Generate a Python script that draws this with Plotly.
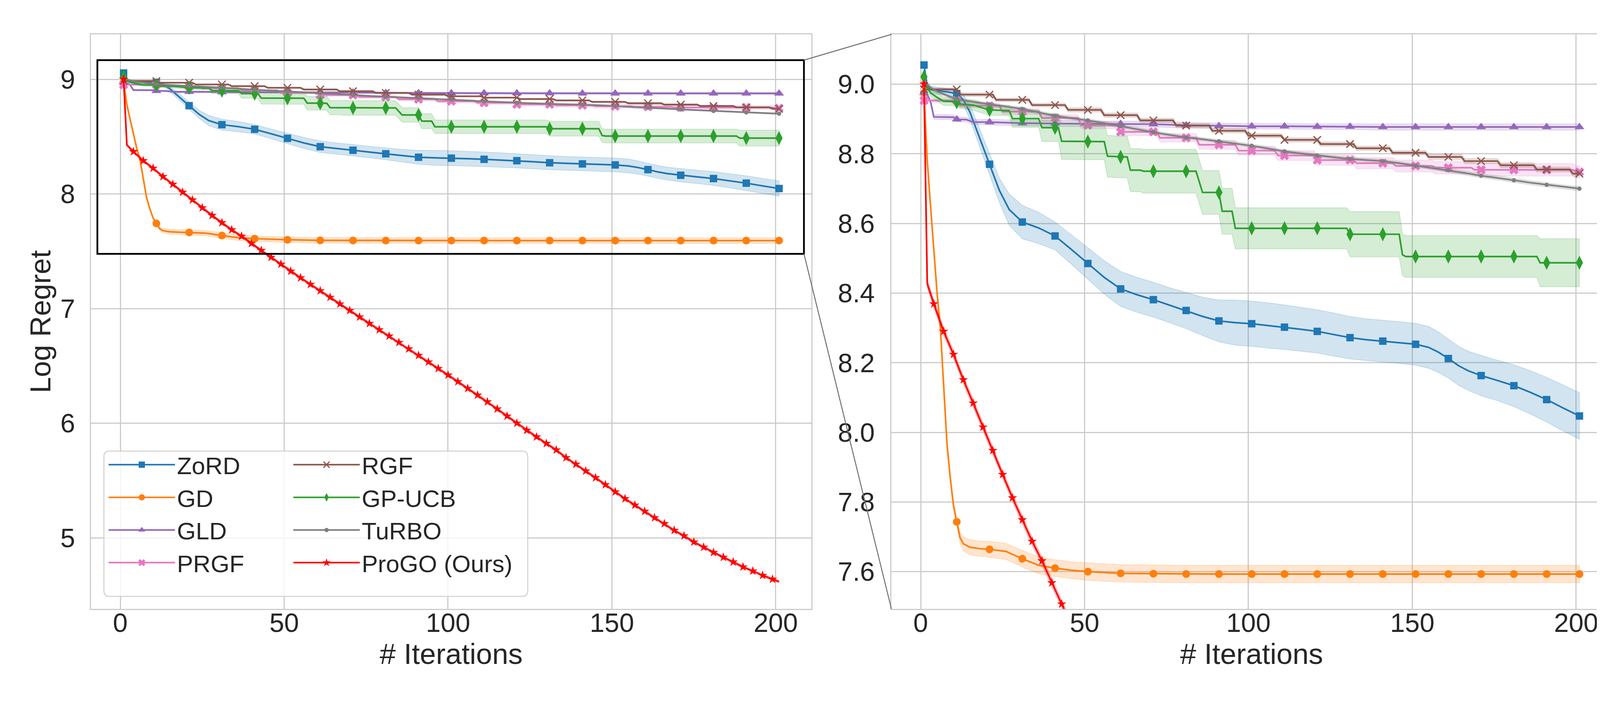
import plotly.graph_objects as go

# ---- data (mean log regret and +/- band half-width) ----
ZORD_X = [1, 2, 3, 5, 8, 11, 13, 15, 17, 19, 21, 24, 27, 31, 36, 41, 46, 51, 56, 61, 66, 71, 76, 81, 86,
          91, 96, 101, 106, 111, 116, 121, 126, 131, 136, 141, 146, 151, 155, 158, 161, 164, 167, 171, 176,
          181, 186, 191, 196, 201]
ZORD_Y = [9.055, 8.995, 8.985, 8.981, 8.978, 8.973, 8.955, 8.920, 8.870, 8.820, 8.770, 8.695, 8.640, 8.604,
          8.587, 8.564, 8.525, 8.485, 8.445, 8.412, 8.395, 8.381, 8.365, 8.350, 8.333, 8.320, 8.315, 8.312,
          8.307, 8.302, 8.296, 8.290, 8.281, 8.272, 8.266, 8.262, 8.258, 8.253, 8.244, 8.230, 8.212, 8.192,
          8.177, 8.163, 8.149, 8.134, 8.115, 8.094, 8.070, 8.047]
ZORD_S = [0.005, 0.010, 0.010, 0.010, 0.010, 0.012, 0.015, 0.020, 0.025, 0.028, 0.030, 0.035, 0.045, 0.048,
          0.045, 0.040, 0.042, 0.045, 0.048, 0.050, 0.050, 0.050, 0.050, 0.052, 0.055, 0.060, 0.065, 0.065,
          0.065, 0.064, 0.063, 0.062, 0.062, 0.061, 0.060, 0.060, 0.060, 0.060, 0.060, 0.058, 0.056, 0.056,
          0.056, 0.058, 0.058, 0.060, 0.062, 0.064, 0.066, 0.067]

GD_X = [1, 2, 3, 4, 5, 6, 7, 8, 9, 10, 11, 12, 13, 15, 18, 21, 26, 31, 36, 41, 46, 51, 61, 71, 81, 91,
        101, 111, 121, 131, 141, 151, 161, 171, 181, 191, 201]
GD_Y = [8.975, 8.780, 8.650, 8.520, 8.400, 8.300, 8.130, 7.970, 7.870, 7.790, 7.743, 7.698, 7.680, 7.670,
        7.666, 7.664, 7.658, 7.637, 7.618, 7.610, 7.604, 7.600, 7.595, 7.594, 7.593, 7.593, 7.593, 7.593,
        7.593, 7.593, 7.593, 7.593, 7.593, 7.593, 7.593, 7.593, 7.593]
GD_S = [0.003, 0.004, 0.005, 0.006, 0.007, 0.008, 0.009, 0.010, 0.010, 0.010, 0.010, 0.015, 0.020, 0.022,
        0.022, 0.023, 0.023, 0.024, 0.024, 0.024, 0.024, 0.025, 0.025, 0.025, 0.025, 0.025, 0.025, 0.025,
        0.025, 0.025, 0.025, 0.025, 0.025, 0.025, 0.025, 0.025, 0.025]

GLD_X = [1, 2, 3, 4, 10, 11, 14, 16, 21, 31, 41, 51, 61, 71, 81, 91, 101, 111, 121, 131, 141, 151, 161,
         171, 181, 191, 201]
GLD_Y = [8.975, 8.970, 8.950, 8.906, 8.905, 8.899, 8.898, 8.891, 8.891, 8.888, 8.887, 8.886, 8.886, 8.885,
         8.882, 8.880, 8.879, 8.879, 8.878, 8.878, 8.877, 8.877, 8.877, 8.877, 8.877, 8.877, 8.877]
GLD_S = [0.003, 0.004, 0.005, 0.007, 0.007, 0.007, 0.007, 0.007, 0.008, 0.008, 0.008, 0.008, 0.008, 0.008,
         0.008, 0.008, 0.008, 0.008, 0.008, 0.008, 0.009, 0.009, 0.009, 0.009, 0.009, 0.009, 0.009]

# step curves: iteration where each level starts, and the level
PRGF_START = [1, 12, 25, 37, 49, 61, 73, 85, 97, 109, 121, 133, 145, 157, 169, 200]
PRGF_LEVEL = [8.953, 8.938, 8.921, 8.903, 8.882, 8.863, 8.846, 8.826, 8.809, 8.795, 8.782, 8.773, 8.765,
              8.760, 8.754, 8.748]
PRGF_STD = [0.005, 0.006, 0.008, 0.009, 0.010, 0.011, 0.012, 0.013, 0.013, 0.014, 0.015, 0.016, 0.017,
            0.018, 0.018, 0.018]

RGF_START = [1, 12, 23, 34, 45, 56, 67, 78, 89, 100, 111, 122, 133, 144, 155, 166, 177, 188, 199]
RGF_LEVEL = [8.985, 8.970, 8.955, 8.940, 8.926, 8.911, 8.896, 8.881, 8.866, 8.852, 8.840, 8.828, 8.816,
             8.803, 8.791, 8.779, 8.767, 8.755, 8.743]
RGF_STD = [0.004, 0.005, 0.005, 0.005, 0.006, 0.006, 0.006, 0.006, 0.006, 0.006, 0.006, 0.006, 0.006,
           0.006, 0.007, 0.007, 0.007, 0.007, 0.007]

GPUCB_X = [1, 2, 3, 5, 7, 10, 11, 12, 16, 19, 21, 27, 28, 31, 36, 37, 41, 42, 43, 51, 56, 57, 61, 63, 64,
           67, 68, 71, 81, 84, 86, 91, 92, 95, 96, 101, 111, 121, 130, 131, 141, 146, 147, 148, 151, 161,
           171, 181, 188, 189, 191, 201]
GPUCB_Y = [9.021, 8.990, 8.975, 8.962, 8.951, 8.950, 8.948, 8.943, 8.940, 8.931, 8.926, 8.924, 8.901,
           8.901, 8.901, 8.875, 8.875, 8.875, 8.836, 8.835, 8.835, 8.793, 8.791, 8.791, 8.753, 8.753, 8.750,
           8.750, 8.750, 8.750, 8.689, 8.689, 8.635, 8.635, 8.586, 8.586, 8.586, 8.586, 8.586, 8.569, 8.569,
           8.569, 8.510, 8.505, 8.505, 8.505, 8.505, 8.505, 8.505, 8.487, 8.487, 8.487]
GPUCB_S = [0.005, 0.008, 0.010, 0.012, 0.012, 0.012, 0.012, 0.012, 0.015, 0.015, 0.015, 0.015, 0.025,
           0.025, 0.025, 0.040, 0.040, 0.040, 0.052, 0.052, 0.052, 0.060, 0.060, 0.060, 0.062, 0.062, 0.063,
           0.063, 0.063, 0.063, 0.063, 0.063, 0.066, 0.066, 0.059, 0.059, 0.059, 0.059, 0.059, 0.065, 0.065,
           0.065, 0.060, 0.060, 0.060, 0.060, 0.060, 0.060, 0.060, 0.069, 0.069, 0.069]

TURBO_X = [1, 3, 5, 7, 11, 16, 21, 26, 31, 36, 41, 46, 51, 56, 61, 66, 71, 76, 81, 86, 91, 96, 101, 106,
           111, 116, 121, 126, 131, 136, 141, 146, 151, 156, 161, 166, 171, 176, 181, 186, 191, 196, 201]
TURBO_Y = [9.007, 8.990, 8.979, 8.971, 8.956, 8.949, 8.942, 8.935, 8.929, 8.919, 8.909, 8.902, 8.896,
           8.888, 8.879, 8.871, 8.862, 8.854, 8.847, 8.842, 8.836, 8.830, 8.823, 8.815, 8.807, 8.801, 8.795,
           8.790, 8.785, 8.782, 8.779, 8.773, 8.766, 8.760, 8.753, 8.745, 8.737, 8.731, 8.724, 8.717, 8.711,
           8.705, 8.700]
TURBO_S = [0.003, 0.004, 0.004, 0.004, 0.005, 0.005, 0.005, 0.005, 0.005, 0.005, 0.005, 0.005, 0.005,
           0.005, 0.005, 0.005, 0.005, 0.005, 0.005, 0.005, 0.005, 0.005, 0.005, 0.005, 0.005, 0.005, 0.005,
           0.005, 0.005, 0.005, 0.005, 0.005, 0.005, 0.006, 0.006, 0.006, 0.006, 0.006, 0.006, 0.006, 0.006,
           0.006, 0.006]

PROGO_X = [1, 2, 4, 7, 10, 13, 16, 19, 22, 25, 28, 31, 34, 37, 40, 43, 46, 49, 52, 55, 58, 61, 64, 67, 70,
           73, 76, 79, 82, 85, 88, 91, 94, 97, 100, 103, 106, 109, 112, 115, 118, 121, 124, 127, 130, 133,
           136, 139, 142, 145, 148, 151, 154, 157, 160, 163, 166, 169, 172, 175, 178, 181, 184, 187, 190,
           193, 196, 199, 201]
PROGO_Y = [9.000, 8.427, 8.369, 8.290, 8.224, 8.151, 8.084, 8.015, 7.948, 7.879, 7.812, 7.749, 7.687,
           7.631, 7.568, 7.507, 7.447, 7.387, 7.326, 7.268, 7.211, 7.155, 7.098, 7.040, 6.983, 6.926, 6.870,
           6.815, 6.760, 6.704, 6.648, 6.591, 6.534, 6.477, 6.420, 6.362, 6.303, 6.245, 6.186, 6.124, 6.062,
           6.000, 5.938, 5.880, 5.823, 5.766, 5.699, 5.642, 5.583, 5.524, 5.463, 5.401, 5.341, 5.285, 5.231,
           5.175, 5.123, 5.065, 5.017, 4.963, 4.918, 4.872, 4.830, 4.789, 4.746, 4.710, 4.672, 4.639, 4.618]
PROGO_STD = 0.012

X_TICKS = [0, 50, 100, 150, 200]
Y_TICKS_MAIN = [5, 6, 7, 8, 9]
Y_TICKS_ZOOM = [7.6, 7.8, 8.0, 8.2, 8.4, 8.6, 8.8, 9.0]
N_ITER = 201

FONT = "Liberation Sans, Arial, sans-serif"
TXT = "#262626"
GRID = "#cccccc"


def expand_steps(starts, levels, stds):
    xs, ys, ss = [], [], []
    for i in range(1, N_ITER + 1):
        k = max(j for j, s in enumerate(starts) if s <= i)
        xs.append(i)
        ys.append(levels[k])
        ss.append(stds[k])
    return xs, ys, ss


def rgba(hex_color, a):
    h = hex_color.lstrip("#")
    r, g, b = int(h[0:2], 16), int(h[2:4], 16), int(h[4:6], 16)
    return "rgba(%d,%d,%d,%.2f)" % (r, g, b, a)


prgf_x, prgf_y, prgf_s = expand_steps(PRGF_START, PRGF_LEVEL, PRGF_STD)
rgf_x, rgf_y, rgf_s = expand_steps(RGF_START, RGF_LEVEL, RGF_STD)

# name, x, y, std, colour, symbol, size, mark every, legend
series = [
    ("ZoRD", ZORD_X, ZORD_Y, ZORD_S, "#1f77b4", "square", 19, 10, "legend"),
    ("GD", GD_X, GD_Y, GD_S, "#ff7f0e", "circle", 20, 10, "legend"),
    ("GLD", GLD_X, GLD_Y, GLD_S, "#9467bd", "triangle-up", 22, 10, "legend"),
    ("PRGF", prgf_x, prgf_y, prgf_s, "#e377c2", "x", 21, 10, "legend"),
    ("RGF", rgf_x, rgf_y, rgf_s, "#8c564b", "x-thin", 19, 10, "legend2"),
    ("GP-UCB", GPUCB_X, GPUCB_Y, GPUCB_S, "#2ca02c", "diamond-tall", 26, 10, "legend2"),
    ("TuRBO", TURBO_X, TURBO_Y, TURBO_S, "#7f7f7f", "circle", 11, 10, "legend2"),
    ("ProGO (Ours)", PROGO_X, PROGO_Y, [PROGO_STD] * len(PROGO_X), "#ff0000", "star", 18, 3, "legend2"),
]

fig = go.Figure()

for name, xs, ys, ss, col, sym, msize, every, leg in series:
    up = [a + b for a, b in zip(ys, ss)]
    lo = [a - b for a, b in zip(ys, ss)]
    mx = [x for x in xs if (x - 1) % every == 0]
    my = [y for x, y in zip(xs, ys) if (x - 1) % every == 0]
    mline = dict(color=col, width=3) if sym == "x-thin" else dict(width=0)
    for xa, ya in (("x", "y"), ("x2", "y2")):
        fig.add_trace(go.Scatter(x=xs + xs[::-1], y=up + lo[::-1], fill="toself", mode="lines",
                                 fillcolor=rgba(col, 0.2), line=dict(color=rgba(col, 0.25), width=1.5),
                                 hoverinfo="skip", showlegend=False, xaxis=xa, yaxis=ya))
        fig.add_trace(go.Scatter(x=xs, y=ys, mode="lines", line=dict(color=col, width=4.2),
                                 showlegend=False, xaxis=xa, yaxis=ya))
        fig.add_trace(go.Scatter(x=mx, y=my, mode="markers", showlegend=False, xaxis=xa, yaxis=ya,
                                 marker=dict(symbol=sym, size=msize, color=col, line=mline)))
    # legend proxy
    fig.add_trace(go.Scatter(x=[None], y=[None], mode="lines+markers", name=name, legend=leg,
                             line=dict(color=col, width=4),
                             marker=dict(symbol=sym, size=min(msize, 16), color=col, line=mline)))

# ---- layout ----
DOM_L = [225 / 4200, 2069 / 4200]
DOM_R = [2274 / 4200, 4118 / 4200]
DOM_Y = [1 - 1551 / 1800, 1 - 80 / 1800]
XR = [-8.94, 210.85]
YR_MAIN = [4.38, 9.392]
YR_ZOOM = [7.493, 9.143]
RECT_X = [-7.0, 208.6]
RECT_Y = [7.477, 9.167]

axis_common = dict(showgrid=True, gridcolor=GRID, gridwidth=2.5, showline=True, linecolor=GRID,
                   linewidth=3, mirror=True, zeroline=False, ticks="", ticklen=0,
                   tickfont=dict(size=68, color=TXT, family=FONT))
title_font = dict(size=74, color=TXT, family=FONT)

fig.update_layout(
    width=4200, height=1800, paper_bgcolor="white", plot_bgcolor="white",
    margin=dict(l=0, r=0, t=0, b=0),
    font=dict(family=FONT, color=TXT),
    xaxis=dict(domain=DOM_L, range=XR, tickvals=X_TICKS, anchor="y", ticklabelstandoff=-26,
               title=dict(text="# Iterations", font=title_font, standoff=18), **axis_common),
    yaxis=dict(domain=DOM_Y, range=YR_MAIN, tickvals=Y_TICKS_MAIN, anchor="x", ticklabelstandoff=24,
               title=dict(text="Log Regret", font=title_font, standoff=1), **axis_common),
    xaxis2=dict(domain=DOM_R, range=XR, tickvals=X_TICKS, anchor="y2", ticklabelstandoff=-26,
                title=dict(text="# Iterations", font=title_font, standoff=18), **axis_common),
    yaxis2=dict(domain=DOM_Y, range=YR_ZOOM, tickvals=Y_TICKS_ZOOM, tickformat=".1f", anchor="x2",
                ticklabelstandoff=26, **axis_common),
    legend=dict(x=265 / 4200, y=1 - 1135 / 1800, xanchor="left", yanchor="top", bgcolor="rgba(0,0,0,0)",
                font=dict(size=62, color=TXT, family=FONT), tracegroupgap=0, itemwidth=170),
    legend2=dict(x=738 / 4200, y=1 - 1135 / 1800, xanchor="left", yanchor="top", bgcolor="rgba(0,0,0,0)",
                 font=dict(size=62, color=TXT, family=FONT), tracegroupgap=0, itemwidth=170),
)


def to_paper(v, dom, rng):
    return dom[0] + (v - rng[0]) / (rng[1] - rng[0]) * (dom[1] - dom[0])


# zoom box on the main panel
fig.add_shape(type="rect", xref="x", yref="y", x0=RECT_X[0], x1=RECT_X[1], y0=RECT_Y[0], y1=RECT_Y[1],
              line=dict(color="black", width=4.5), layer="above")
# connector lines to the inset panel
rx = to_paper(RECT_X[1], DOM_L, XR)
for ry, cy in ((RECT_Y[1], DOM_Y[1]), (RECT_Y[0], DOM_Y[0])):
    fig.add_shape(type="line", xref="paper", yref="paper", x0=rx, y0=to_paper(ry, DOM_Y, YR_MAIN),
                  x1=DOM_R[0], y1=cy, line=dict(color="#707070", width=2.5), layer="above")

# legend frame with rounded corners
lx0, lx1, ly0, ly1 = 258 / 4200, 1343 / 4200, 1 - 1519 / 1800, 1 - 1147 / 1800
rw, rh = 14 / 4200, 14 / 1800
frame = ("M {a},{b} L {c},{b} Q {x1},{b} {x1},{d} L {x1},{e} Q {x1},{y1} {c},{y1} "
         "L {a},{y1} Q {x0},{y1} {x0},{e} L {x0},{d} Q {x0},{b} {a},{b} Z").format(
    a=lx0 + rw, c=lx1 - rw, b=ly0, d=ly0 + rh, e=ly1 - rh, x0=lx0, x1=lx1, y1=ly1)
fig.add_shape(type="path", xref="paper", yref="paper", path=frame, fillcolor="rgba(255,255,255,0.8)",
              line=dict(color="#d0d0d0", width=2.5), layer="above")

fig.write_html("out.html")
